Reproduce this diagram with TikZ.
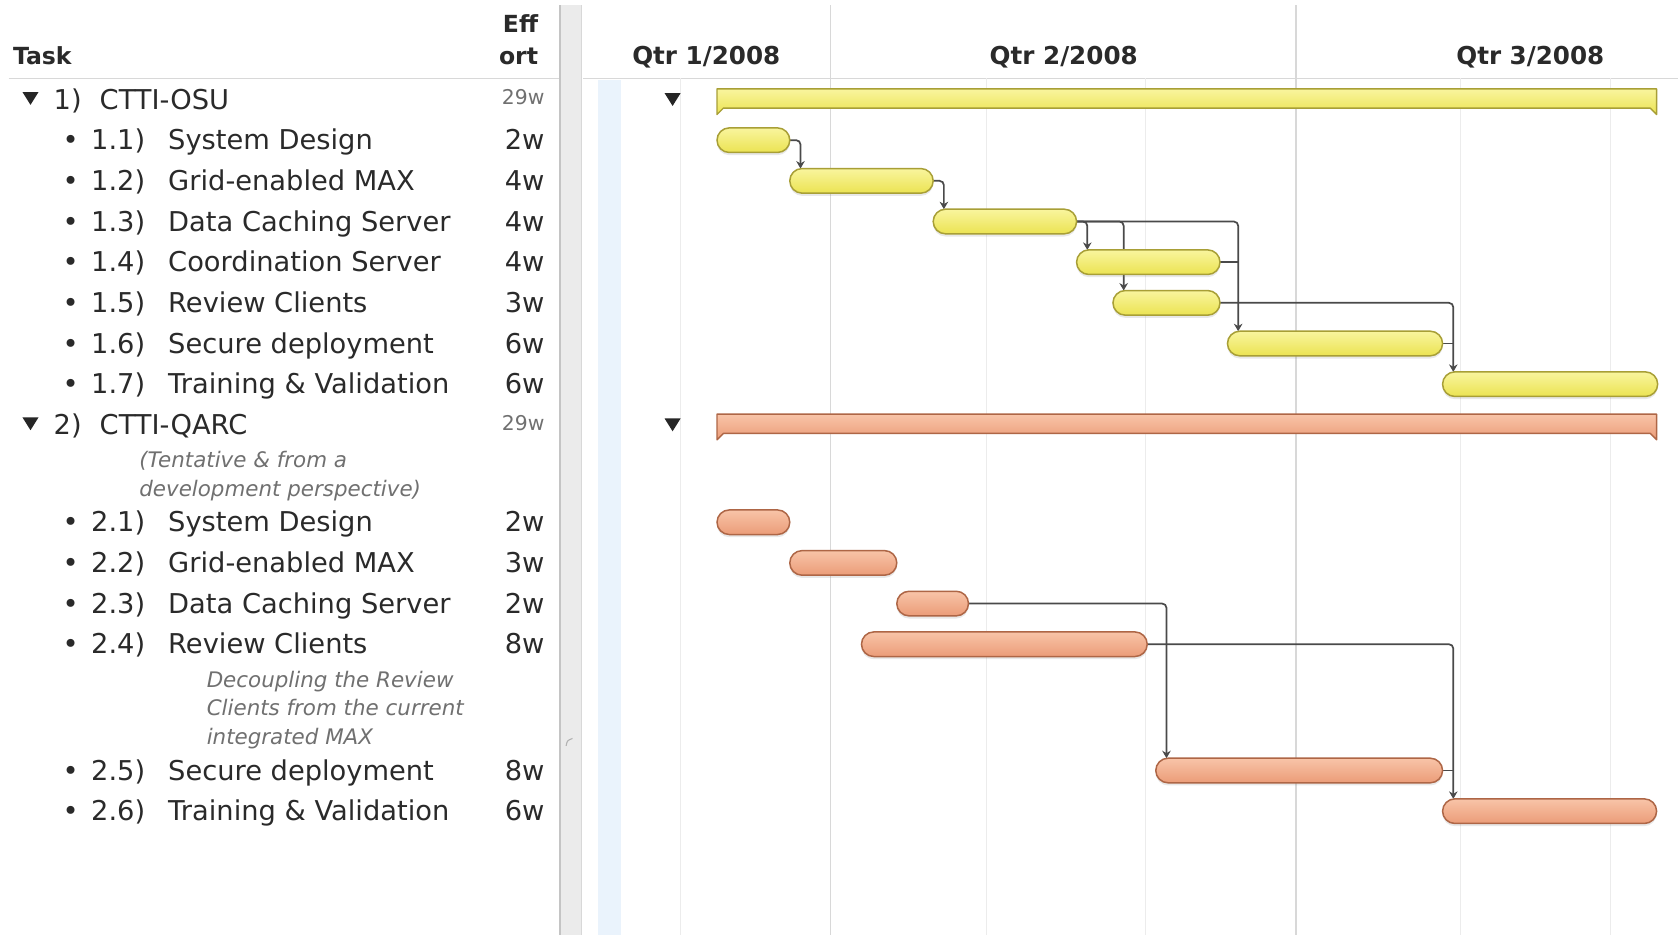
\documentclass[tikz,border=0pt]{standalone}
\usepackage{fontspec}
\setmainfont{DejaVu Sans}
\usetikzlibrary{arrows.meta,shadows}
\pgfdeclarelayer{bg}
\pgfdeclarelayer{mid}
\pgfsetlayers{bg,mid,main}
\definecolor{txt}{HTML}{2A2A2A}
\definecolor{note}{HTML}{707070}
\definecolor{ytop}{HTML}{F9F59E}
\definecolor{ybot}{HTML}{EBE352}
\definecolor{ybord}{HTML}{A89F36}
\definecolor{stop}{HTML}{F8C4A8}
\definecolor{sbot}{HTML}{EB9C78}
\definecolor{sbord}{HTML}{AE6646}
\definecolor{lc}{HTML}{4A4A4A}
\definecolor{gmaj}{HTML}{D8D8D8}
\definecolor{gmin}{HTML}{ECECEC}
\definecolor{sep}{HTML}{EBEBEB}
\definecolor{sepd}{HTML}{C4C4C4}
\definecolor{lblue}{HTML}{EAF3FC}
\begin{document}
\begin{tikzpicture}[x=1pt,y=-1pt,
  lbl/.style={anchor=base west,text=txt,inner sep=0pt,font=\fontsize{25.5}{30}\selectfont},
  eff/.style={anchor=base east,text=txt,inner sep=0pt,font=\fontsize{25.5}{30}\selectfont},
  bul/.style={anchor=base,text=txt,inner sep=0pt,font=\fontsize{25.5}{30}\selectfont},
  tot/.style={anchor=base east,text=note,inner sep=0pt,font=\fontsize{19}{22}\selectfont},
  nt/.style={anchor=base west,text=note,inner sep=0pt,font=\fontsize{20}{24}\selectfont\itshape},
  hd/.style={text=txt,inner sep=0pt,font=\fontsize{22}{26}\selectfont\bfseries},
  barbase/.style={line width=1.4pt,rounded corners=11.5pt,minimum height=23pt,inner sep=0pt,outer sep=0pt,anchor=west,
    drop shadow={opacity=0.18,shadow xshift=0pt,shadow yshift=-2.5pt}},
  ybar/.style={barbase,draw=ybord,top color=ytop,bottom color=ybot},
  sbar/.style={barbase,draw=sbord,top color=stop,bottom color=sbot},
  ysum/.style={draw=ybord,line width=1.3pt,top color=ytop,bottom color=ybot,line join=round},
  ssum/.style={draw=sbord,line width=1.3pt,top color=stop,bottom color=sbot,line join=round},
  dep/.style={draw=lc,line width=1.6pt,rounded corners=4pt,-{Stealth[length=7pt,width=8pt]}},
  joinline/.style={draw=lc,line width=1.6pt},
  tri/.style={fill=black!85}
]
\useasboundingbox (0,0) rectangle (1568,874);

\begin{pgfonlayer}{bg}
  \fill[white] (0,0) rectangle (1568,874);
  \fill[lblue] (559,75) rectangle (580,874);
  \fill[sep] (523,5) rectangle (543,874);
  \draw[sepd,line width=1.5pt] (523.5,5) -- (523.5,874);
  \draw[gmaj,line width=1pt] (543,5) -- (543,874);
  \draw[gray!60,line width=1pt] (529,697) .. controls (530,692) .. (535,690);
  \draw[gmaj,line width=1pt] (8,73) -- (522,73);
  \draw[gmaj,line width=1pt] (545,73) -- (1568,73);
  \foreach \gx in {776,1211} \draw[gmaj,line width=1pt] (\gx,5) -- (\gx,874);
  \foreach \gx in {636,922,1070,1365,1505} \draw[gmin,line width=1pt] (\gx,73) -- (\gx,874);
\end{pgfonlayer}

% ---------- header ----------
\node[hd,anchor=base west] (hTask) at (12,60) {Task};
\node[hd,anchor=base east] (hEff) at (503,30) {Eff};
\node[hd,anchor=base east] (hOrt) at (503,60) {ort};
\node[hd,anchor=base,font=\fontsize{23}{26}\selectfont\bfseries] (q1) at (660,60) {Qtr 1/2008};
\node[hd,anchor=base,font=\fontsize{23}{26}\selectfont\bfseries] (q2) at (994,60) {Qtr 2/2008};
\node[hd,anchor=base,font=\fontsize{23}{26}\selectfont\bfseries] (q3) at (1430,60) {Qtr 3/2008};

% ---------- left panel: group 1 ----------
\fill[tri] (21,86) -- (36,86) -- (28.5,98) -- cycle;
\node[lbl] (g1n) at (50,102) {1)};
\node[lbl] (g1t) at (93,102) {CTTI-OSU};
\node[tot] (g1e) at (509,98) {29w};

\node[bul] (d11) at (66,140) {•}; \node[lbl] (n11) at (85,140) {1.1)}; \node[lbl] (t11) at (157,140) {System Design}; \node[eff] (e11) at (509,140) {2w};
\node[bul] (d12) at (66,178) {•}; \node[lbl] (n12) at (85,178) {1.2)}; \node[lbl] (t12) at (157,178) {Grid-enabled MAX}; \node[eff] (e12) at (509,178) {4w};
\node[bul] (d13) at (66,216) {•}; \node[lbl] (n13) at (85,216) {1.3)}; \node[lbl] (t13) at (157,216) {Data Caching Server}; \node[eff] (e13) at (509,216) {4w};
\node[bul] (d14) at (66,254) {•}; \node[lbl] (n14) at (85,254) {1.4)}; \node[lbl] (t14) at (157,254) {Coordination Server}; \node[eff] (e14) at (509,254) {4w};
\node[bul] (d15) at (66,292) {•}; \node[lbl] (n15) at (85,292) {1.5)}; \node[lbl] (t15) at (157,292) {Review Clients}; \node[eff] (e15) at (509,292) {3w};
\node[bul] (d16) at (66,330) {•}; \node[lbl] (n16) at (85,330) {1.6)}; \node[lbl] (t16) at (157,330) {Secure deployment}; \node[eff] (e16) at (509,330) {6w};
\node[bul] (d17) at (66,368) {•}; \node[lbl] (n17) at (85,368) {1.7)}; \node[lbl] (t17) at (157,368) {Training \& Validation}; \node[eff] (e17) at (509,368) {6w};

% ---------- left panel: group 2 ----------
\fill[tri] (21,390) -- (36,390) -- (28.5,402) -- cycle;
\node[lbl] (g2n) at (50,406) {2)};
\node[lbl] (g2t) at (93,406) {CTTI-QARC};
\node[tot] (g2e) at (509,402) {29w};
\node[nt] (c2a) at (130,437) {(Tentative \& from a};
\node[nt] (c2b) at (130,464) {development perspective)};

\node[bul] (d21) at (66,497) {•}; \node[lbl] (n21) at (85,497) {2.1)}; \node[lbl] (t21) at (157,497) {System Design}; \node[eff] (e21) at (509,497) {2w};
\node[bul] (d22) at (66,535) {•}; \node[lbl] (n22) at (85,535) {2.2)}; \node[lbl] (t22) at (157,535) {Grid-enabled MAX}; \node[eff] (e22) at (509,535) {3w};
\node[bul] (d23) at (66,573) {•}; \node[lbl] (n23) at (85,573) {2.3)}; \node[lbl] (t23) at (157,573) {Data Caching Server}; \node[eff] (e23) at (509,573) {2w};
\node[bul] (d24) at (66,611) {•}; \node[lbl] (n24) at (85,611) {2.4)}; \node[lbl] (t24) at (157,611) {Review Clients}; \node[eff] (e24) at (509,611) {8w};
\node[nt] (c4a) at (193,642) {Decoupling the Review};
\node[nt] (c4b) at (193,669) {Clients from the current};
\node[nt] (c4c) at (193,696) {integrated MAX};
\node[bul] (d25) at (66,729) {•}; \node[lbl] (n25) at (85,729) {2.5)}; \node[lbl] (t25) at (157,729) {Secure deployment}; \node[eff] (e25) at (509,729) {8w};
\node[bul] (d26) at (66,767) {•}; \node[lbl] (n26) at (85,767) {2.6)}; \node[lbl] (t26) at (157,767) {Training \& Validation}; \node[eff] (e26) at (509,767) {6w};

% ---------- chart: group 1 ----------
\fill[tri] (621,87) -- (636,87) -- (628.5,99) -- cycle;
\path[ysum] (670,83) -- (1548,83) -- (1548,107) -- (1542,101) -- (676,101) -- (670,107) -- cycle;
\node[ybar,minimum width=68pt]  (b11) at (670,131) {};
\node[ybar,minimum width=134pt] (b12) at (738,169) {};
\node[ybar,minimum width=134pt] (b13) at (872,207) {};
\node[ybar,minimum width=134pt] (b14) at (1006,245) {};
\node[ybar,minimum width=100pt] (b15) at (1040,283) {};
\node[ybar,minimum width=201pt] (b16) at (1147,321) {};
\node[ybar,minimum width=201pt] (b17) at (1348,359) {};

% ---------- chart: group 2 ----------
\fill[tri] (621,391) -- (636,391) -- (628.5,403) -- cycle;
\path[ssum] (670,387) -- (1548,387) -- (1548,411) -- (1542,405) -- (676,405) -- (670,411) -- cycle;
\node[sbar,minimum width=68pt]  (b21) at (670,488) {};
\node[sbar,minimum width=100pt] (b22) at (738,526) {};
\node[sbar,minimum width=67pt]  (b23) at (838,564) {};
\node[sbar,minimum width=267pt] (b24) at (805,602) {};
\node[sbar,minimum width=268pt] (b25) at (1080,720) {};
\node[sbar,minimum width=200pt] (b26) at (1348,758) {};

% ---------- connectors ----------
\coordinate (a12) at ([xshift=10pt]b12.north west);
\coordinate (a13) at ([xshift=10pt]b13.north west);
\coordinate (a14) at ([xshift=10pt]b14.north west);
\coordinate (a15) at ([xshift=10pt]b15.north west);
\coordinate (a16) at ([xshift=10pt]b16.north west);
\coordinate (a17) at ([xshift=10pt]b17.north west);
\coordinate (a25) at ([xshift=10pt]b25.north west);
\coordinate (a26) at ([xshift=10pt]b26.north west);
\begin{pgfonlayer}{mid}
  \draw[dep] (b11.east) -| (a12);
  \draw[dep] (b12.east) -| (a13);
  \draw[dep] (b13.east) -| (a14);
  \draw[dep] (b13.east) -| (a15);
  \draw[dep] (b13.east) -| (a16);
  \draw[joinline] (b14.east) -- (b14.east -| a16);
  \draw[dep] (b15.east) -| (a17);
  \draw[joinline] (b16.east) -- (b16.east -| a17);
  \draw[dep] (b23.east) -| (a25);
  \draw[dep] (b24.east) -| (a26);
  \draw[joinline] (b25.east) -- (b25.east -| a26);
\end{pgfonlayer}
\end{tikzpicture}
\end{document}
